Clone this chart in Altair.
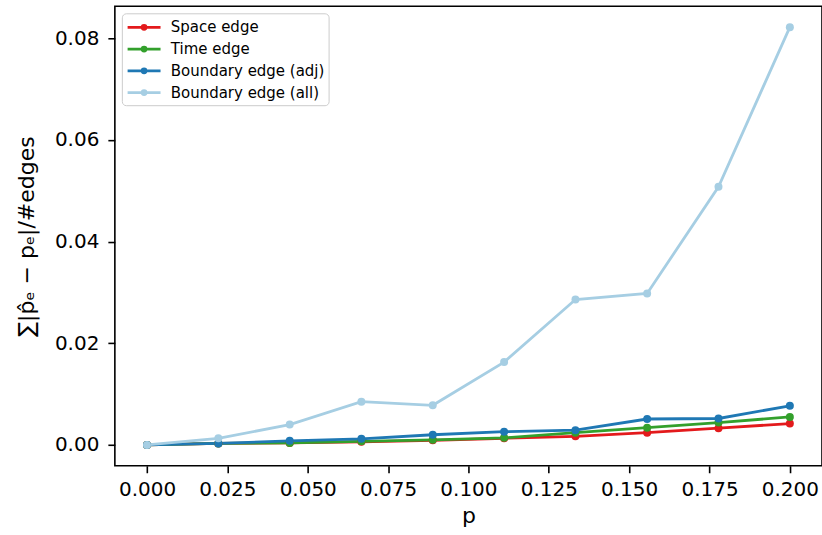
import altair as alt
import pandas as pd

p_values = [0.0, 0.0222, 0.0444, 0.0667, 0.0889, 0.1111, 0.1333, 0.1556, 0.1778, 0.2]
space_edge = [0.0, 0.0003, 0.0004, 0.0006, 0.0009, 0.0013, 0.0017, 0.0024, 0.0033, 0.0042]
time_edge = [0.0, 0.0003, 0.0004, 0.0007, 0.0010, 0.0014, 0.0024, 0.0034, 0.0044, 0.0055]
boundary_adj = [0.0, 0.0003, 0.0008, 0.0012, 0.0020, 0.0026, 0.0029, 0.0051, 0.0052, 0.0077]
boundary_all = [0.0, 0.0013, 0.0040, 0.0085, 0.0078, 0.0163, 0.0286, 0.0298, 0.0508, 0.0822]

series_names = ["Space edge", "Time edge", "Boundary edge (adj)", "Boundary edge (all)"]
series_values = [space_edge, time_edge, boundary_adj, boundary_all]
series_colors = ["#e31a1c", "#33a02c", "#1f78b4", "#a6cee3"]

rows = []
for i, (name, vals) in enumerate(zip(series_names, series_values)):
    for x, y in zip(p_values, vals):
        rows.append({"p": x, "value": y, "series": name, "order": i})
df = pd.DataFrame(rows)

# line with a dot in the middle, offset so it starts at the symbol's left edge
legend_symbol = "M-1,0L3,0M0.76,0A0.24,0.24 0 1,0 1.24,0A0.24,0.24 0 1,0 0.76,0Z"

color = alt.Color(
    "series:N",
    scale=alt.Scale(domain=series_names, range=series_colors),
    sort=series_names,
    legend=alt.Legend(
        title=None,
        orient="none",
        legendX=7,
        legendY=7,
        symbolType=legend_symbol,
        symbolSize=272,
        symbolStrokeWidth=2.8,
        symbolFillColor="transparent",
        labelFont="DejaVu Sans",
        labelFontSize=15,
        labelColor="black",
        labelOffset=25,
        rowPadding=3.8,
        padding=4,
        strokeColor="#cccccc",
        fillColor="white",
        cornerRadius=4,
    ),
)

x = alt.X(
    "p:Q",
    scale=alt.Scale(domain=[-0.01, 0.21], nice=False, zero=False),
    axis=alt.Axis(
        values=[0.0, 0.025, 0.05, 0.075, 0.1, 0.125, 0.15, 0.175, 0.2],
        format=".3f",
        title="p",
    ),
)
y = alt.Y(
    "value:Q",
    scale=alt.Scale(domain=[-0.0041, 0.0863], nice=False, zero=False),
    axis=alt.Axis(
        values=[0.0, 0.02, 0.04, 0.06, 0.08],
        format=".2f",
        title="∑|p̂ₑ − pₑ|/#edges",
    ),
)

base = alt.Chart(df)
lines = base.mark_line(strokeWidth=2.8).encode(x=x, y=y, color=color, order="order:Q")
points = base.mark_point(filled=True, size=64, opacity=1).encode(
    x=x, y=y, color=alt.Color("series:N", scale=alt.Scale(domain=series_names, range=series_colors), legend=None)
)

chart = (
    alt.layer(lines, points)
    .properties(
        width=708,
        height=460,
        padding={"left": 115, "top": 6, "right": 0, "bottom": 69},
        autosize=alt.AutoSizeParams(type="none"),
        background="white",
    )
    .configure_view(stroke="black", strokeWidth=1.6)
    .configure_axis(
        grid=False,
        domain=False,
        ticks=True,
        tickColor="black",
        tickWidth=1.6,
        tickSize=7,
        labelFont="DejaVu Sans",
        labelFontSize=20,
        labelColor="black",
        titleFont="DejaVu Sans",
        titleFontSize=22,
        titleFontWeight="normal",
        titleColor="black",
    )
    .configure_axisX(labelPadding=7, titlePadding=6)
    .configure_axisY(labelPadding=9, titlePadding=16)
)

chart.save("out.html", embed_options={"renderer": "svg", "actions": False})
